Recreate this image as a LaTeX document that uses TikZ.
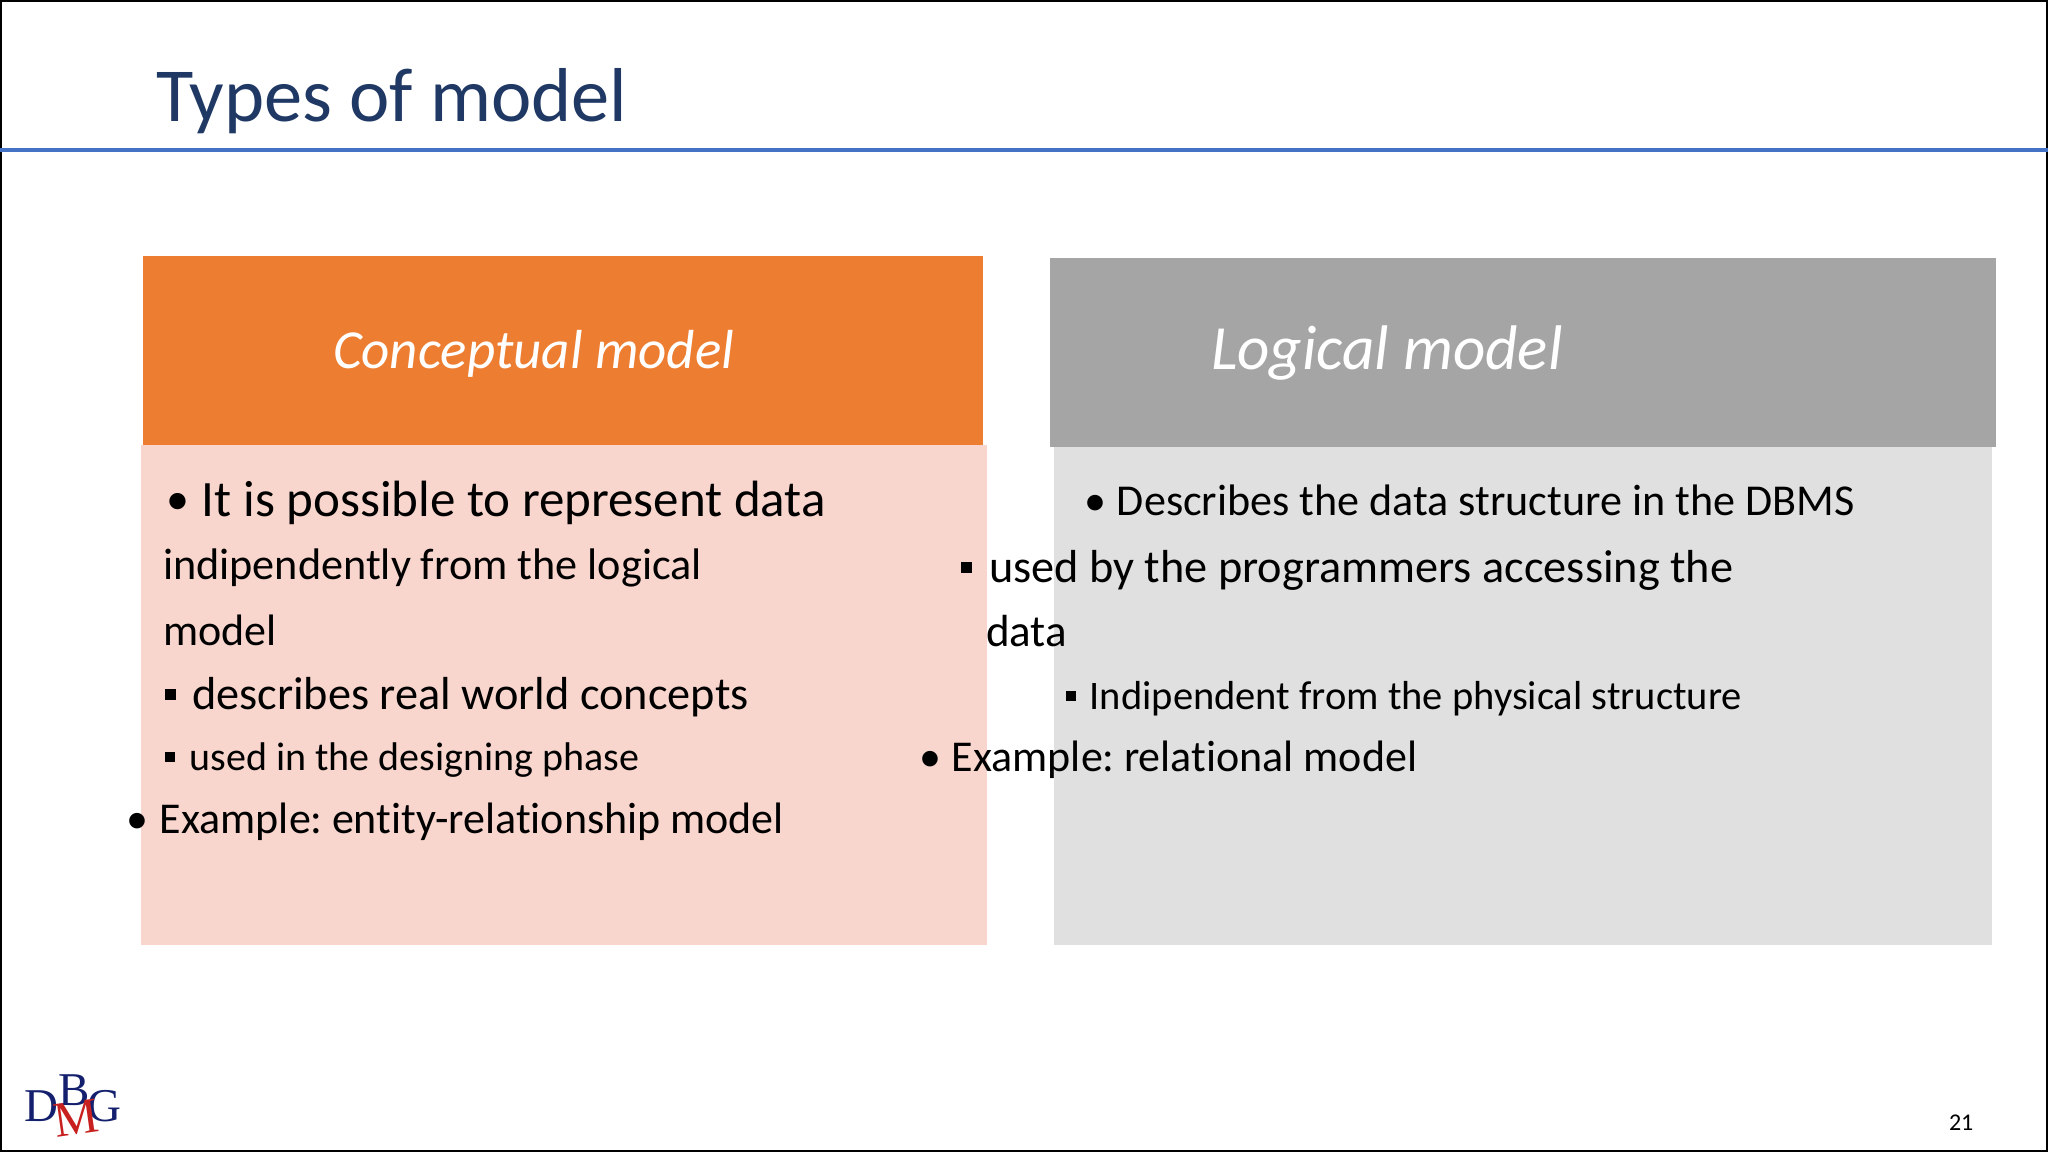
\documentclass[tikz,border=0pt]{standalone}
\usepackage{xcolor}
\usepackage{fontspec}
\setmainfont{Carlito}[Ligatures=NoCommon]
\newfontfamily\logofont{Liberation Serif}
\usepackage{tikz}
\usetikzlibrary{positioning}

\definecolor{titleblue}{HTML}{1F3864}
\definecolor{ruleblue}{HTML}{4472C4}
\definecolor{headorange}{HTML}{ED7D31}
\definecolor{headgray}{HTML}{A5A5A5}
\definecolor{bodypink}{HTML}{F8D5CD}
\definecolor{bodygray}{HTML}{E0E0E0}
\definecolor{logoblue}{HTML}{14206E}
\definecolor{logored}{HTML}{C8201E}

\newcommand{\fs}[1]{\fontsize{#1}{#1}\selectfont}
\newcommand{\squarebul}[1]{\rule[0.2em]{0.24em}{0.24em}\hspace{#1pt}}
\newcommand{\roundbul}[1]{\textbullet\hspace{#1pt}}

\tikzset{
    panel/.style={rectangle, inner sep=0pt, outer sep=0pt, anchor=north west},
    line/.style={inner sep=0pt, outer sep=0pt, anchor=base west, text=black},
    head/.style={inner sep=0pt, outer sep=0pt, anchor=base west, text=white, font=\fs{55}\itshape},
    logo/.style={inner sep=0pt, outer sep=0pt, anchor=base west, font=\logofont\fs{47}}
}

\begin{document}
\begin{tikzpicture}[x=1pt, y=-1pt]
    \useasboundingbox (0,0) rectangle (2048,1152);
    \node (frame) [panel, fill=white, draw=black, line width=2pt, minimum width=2046pt, minimum height=1150pt] at (1,1) {};

    \node (title) [line, text=titleblue, font=\fs{76.4}] at (156,121) {Types of model};
    \coordinate (ruleleft) at (0,150);
    \coordinate (ruleright) at (2048,150);
    \draw[ruleblue, line width=4pt] (ruleleft) -- (ruleright);

    % left column
    \node (conceptualbody) [panel, fill=bodypink, minimum width=846pt, minimum height=500pt] at (141,445) {};
    \node (conceptualhead) [panel, fill=headorange, minimum width=840pt, minimum height=189pt] at (143,256) {};
    \node (conceptualtitle) [head] at (333,368) {Conceptual model};

    % right column
    \node (logicalbody) [panel, fill=bodygray, minimum width=938pt, minimum height=500pt] at (1054,445) {};
    \node (logicalhead) [panel, fill=headgray, minimum width=946pt, minimum height=189pt] at (1050,258) {};
    \node (logicaltitle) [head, font=\fs{63}\itshape] at (1211,369) {Logical model};

    % text of the left column
    \node (possible) [line, font=\fs{51}] at (166,516) {{\fs{46}\raisebox{2pt}{\textbullet}}\hspace{13pt}It is possible to represent data};
    \node (indipendently) [line, font=\fs{44.2}] at (163,579) {indipendently from the logical};
    \node (modelword) [line, font=\fs{44}] at (163,645) {model};
    \node (describes) [line, font=\fs{46.3}] at (165,709) {\squarebul{16}describes real world concepts};
    \node (designing) [line, font=\fs{40}] at (165,770) {\squarebul{15}used in the designing phase};
    \node (exampleer) [line, font=\fs{44}] at (126,833) {\roundbul{12}Example:\hspace{-4pt} entity-relationship model};

    % text of the right column
    \node (structure) [line, font=\fs{44.1}] at (1084,515) {\roundbul{11}Describes the data structure in the DBMS};
    \node (programmers) [line, font=\fs{46.3}] at (961,582) {\squarebul{17}used by the programmers accessing the};
    \node (dataword) [line, font=\fs{45}] at (986,646) {data};
    \node (physical) [line, font=\fs{40.5}] at (1066,709) {\squarebul{14}Indipendent from the physical structure};
    \node (examplerel) [line, font=\fs{44}] at (919,771) {\roundbul{11}Example:\hspace{-4pt} relational model};

    \node (pagenum) [line, font=\fs{24}] at (1949,1130) {21};

    % logo
    \node (logod) [logo, text=logoblue] at (24,1121) {D};
    \node (logob) [logo, text=logoblue] at (58,1105) {B};
    \node (logog) [logo, text=logoblue] at (87,1121) {G};
    \node (logom) [logo, text=logored, rotate=8, font=\logofont\fs{50}] at (56,1137) {M};
\end{tikzpicture}
\end{document}
